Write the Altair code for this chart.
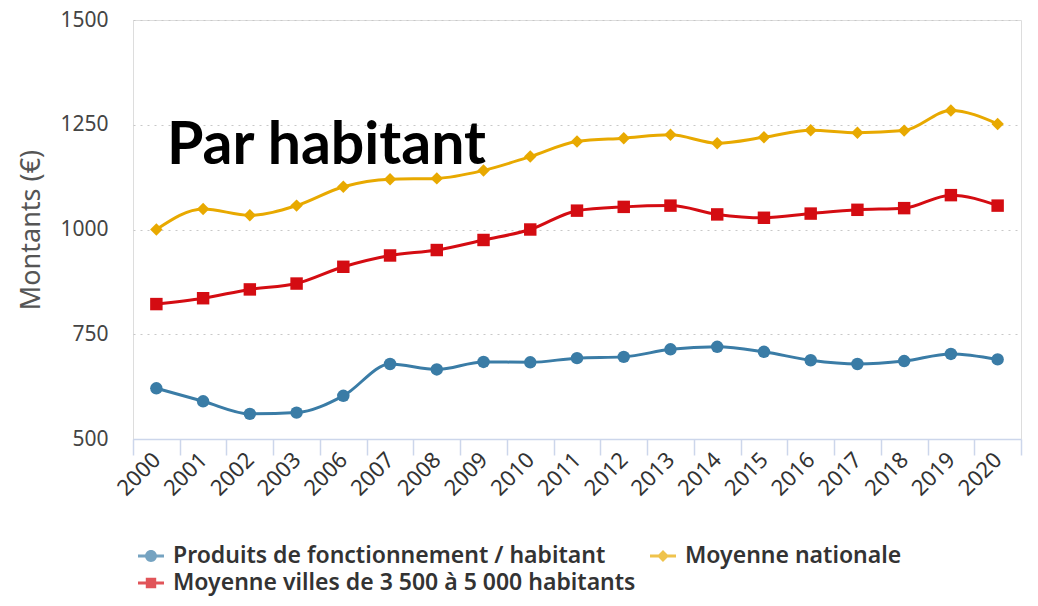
import altair as alt
import pandas as pd

years = ["2000", "2001", "2002", "2003", "2006", "2007", "2008", "2009", "2010", "2011",
         "2012", "2013", "2014", "2015", "2016", "2017", "2018", "2019", "2020"]
produits = [621, 590, 560, 563, 603, 679, 666, 684, 683, 693, 696, 714, 720, 708, 688, 679, 686, 703, 690]
nationale = [1000, 1049, 1034, 1057, 1102, 1120, 1122, 1141, 1174, 1210, 1218, 1226, 1206, 1220, 1237, 1231, 1236, 1284, 1252]
villes = [822, 836, 857, 871, 911, 938, 951, 975, 1000, 1045, 1054, 1057, 1036, 1028, 1038, 1047, 1051, 1082, 1057]

series_names = ["Produits de fonctionnement / habitant", "Moyenne nationale",
                "Moyenne villes de 3 500 à 5 000 habitants"]
series_colors = ["#3a7ca6", "#e8a900", "#d40c12"]
marker_shapes = ["circle", "diamond", "square"]
legend_shapes = [
    "M-1,-0.12H1V0.12H-1Z M0.46,0A0.46,0.46,0,1,1,-0.46,0A0.46,0.46,0,1,1,0.46,0Z",
    "M-1,-0.12H1V0.12H-1Z M0,-0.46L0.46,0L0,0.46L-0.46,0Z",
    "M-1,-0.12H1V0.12H-1Z M-0.4,-0.4H0.4V0.4H-0.4Z",
]

rows = []
for name, vals in zip(series_names, [produits, nationale, villes]):
    for y, v in zip(years, vals):
        rows.append({"annee": y, "montant": v, "serie": name})
df = pd.DataFrame(rows)

FONT = "Noto Sans"

x_enc = alt.X("annee:N", sort=years, title=None,
              axis=alt.Axis(labelAngle=-45, labelAlign="right", labelBaseline="middle",
                            tickBand="extent", tickSize=16, tickColor="#ccd6eb",
                            domainColor="#ccd6eb", domainWidth=1.5, tickWidth=1.5,
                            labelPadding=1, labelFontSize=22, labelColor="#333333",
                            labelFont=FONT, grid=False))
y_enc = alt.Y("montant:Q", title="Montants (€)",
              scale=alt.Scale(domain=[500, 1500], nice=False, zero=False),
              axis=alt.Axis(values=[500, 750, 1000, 1250, 1500], format="d", grid=True,
                            gridDash=[2, 5], gridColor="#c8c8c8", domain=False, ticks=False,
                            labelPadding=25, labelFontSize=21, labelColor="#444444",
                            labelFont=FONT, titleFont=FONT, titleFontSize=27,
                            titleFontWeight="normal", titleColor="#555555", titlePadding=14))

color_scale = alt.Scale(domain=series_names, range=series_colors)

base = alt.Chart(df).encode(x=x_enc, y=y_enc)

lines = base.mark_line(strokeWidth=3, interpolate="monotone").encode(
    color=alt.Color("serie:N", scale=color_scale, legend=None),
    detail="serie:N",
)
points = base.mark_point(filled=True, size=155, opacity=1).encode(
    color=alt.Color("serie:N", scale=color_scale, legend=None),
    shape=alt.Shape("serie:N", scale=alt.Scale(domain=series_names, range=marker_shapes), legend=None),
)
legend_layer = base.mark_point(filled=True, size=676).encode(
    color=alt.Color("serie:N", scale=color_scale,
                    legend=alt.Legend(title=None, orient="none", legendX=5, legendY=523,
                                      direction="horizontal", columns=2, columnPadding=14,
                                      rowPadding=2, symbolSize=676, symbolStrokeWidth=0,
                                      labelFont=FONT, labelFontSize=23, labelFontWeight=600,
                                      labelColor="#333333", labelLimit=700, labelOffset=9)),
    shape=alt.Shape("serie:N", scale=alt.Scale(domain=series_names, range=legend_shapes)),
).transform_filter("false")

chart = alt.layer(lines, points, legend_layer).resolve_scale(
    color="independent", shape="independent"
).properties(
    width=888, height=419,
    autosize=alt.AutoSizeParams(type="none"),
    padding={"left": 125, "top": 12, "right": 9, "bottom": 159},
    title=alt.TitleParams("Par habitant", anchor="start", frame="group", dx=34, dy=218,
                          font="Lato", fontSize=59, fontWeight="bold", color="#000000",
                          baseline="alphabetic"),
).configure_view(stroke=None).configure(background="white")

chart.save("out.html", embed_options={"renderer": "svg", "actions": False})
